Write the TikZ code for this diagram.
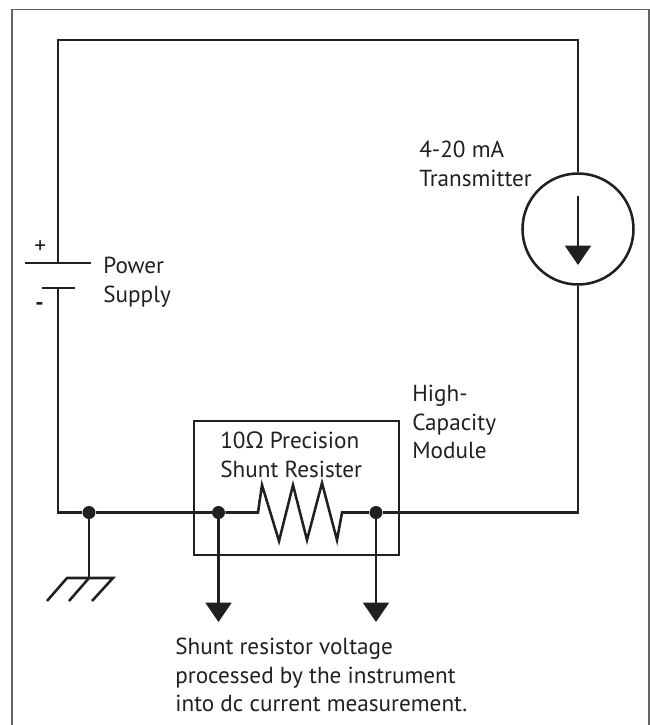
\documentclass[tikz,border=0pt]{standalone}
\usepackage{fontspec}
\setmainfont{PT Sans}
\newfontfamily\greekfont{Open Sans}
\usetikzlibrary{arrows.meta}
\definecolor{ink}{HTML}{231F20}
\begin{document}
\begin{tikzpicture}[x=0.02cm, y=-0.02cm]
	\tikzset{wire/.style={draw=ink, line width=1.45pt, line join=miter}}
	\tikzset{arrow/.style={wire, -{Triangle[width=14.7pt, length=11pt]}}}
	\tikzset{dot/.style={circle, fill=ink, minimum size=0.26cm, inner sep=0pt}}
	\tikzset{label/.style={anchor=west, align=left, text=ink, font=\fontsize{13.2pt}{16.4pt}\selectfont, inner sep=0pt}}
	\useasboundingbox (0, 0) rectangle (650, 725);
	\draw[draw=ink!70, line width=0.75pt] (12, 725) -- (12, 9.5) -- (649, 9.5) -- (649, 725);

	\coordinate (topleft) at (58, 40);
	\coordinate (topright) at (578, 40);
	\coordinate (botleft) at (58, 512.5);
	\coordinate (botright) at (578, 512.5);
	\coordinate (plus) at (58, 263);
	\coordinate (minus) at (58, 288);

	\node[dot] (gnd) at (89, 512.5) {};
	\node[dot] (tapa) at (218.5, 512.5) {};
	\node[dot] (tapb) at (376, 512.5) {};
	\node[draw=ink, line width=1.45pt, circle, minimum size=2.22cm, inner sep=0pt] (source) at (578, 229) {};
	\node[draw=ink, line width=1.45pt, minimum width=4.1cm, minimum height=2.68cm, inner sep=0pt] (module) at (296.5, 488) {};

	\coordinate (srctop) at (578, 196);
	\coordinate (srcbot) at (578, 265);
	\draw[arrow] (srctop) -- (srcbot);

	\draw[wire] (plus) -- (topleft) -- (topright) -- (source.north);
	\draw[wire] (minus) -- (botleft) -- (gnd) -- (tapa);
	\draw[wire] (source.south) -- (botright) -- (tapb);

	% battery plates
	\draw[wire] (25, 263) -- (plus) -- (91, 263);
	\draw[wire] (41.5, 288) -- (minus) -- (75, 288);

	% resistor
	\draw[wire] (tapa) -- (258, 512.5) -- (262, 485) -- (279, 541) -- (293, 485) -- (307, 540) -- (322, 483) -- (337, 540) -- (342, 512.5) -- (tapb);

	% ground
	\coordinate (gndbar) at (89, 578);
	\draw[wire] (gnd) -- (gndbar);
	\draw[wire] (47, 601) -- (67, 578) -- (gndbar) -- (113, 578) -- (92, 601);
	\draw[wire] (gndbar) -- (69, 601);

	\coordinate (enda) at (218.5, 622);
	\coordinate (endb) at (376, 622);
	\draw[arrow] (tapa) -- (enda);
	\draw[arrow] (tapb) -- (endb);

	\node[label] (psign) at (34, 247) {+};
	\node[label] (msign) at (35, 306) {\bfseries -};
	\node[label] (supply) at (103, 282) {Power\\Supply};
	\node[label] (transmitter) at (419, 164) {4-20 mA\\Transmitter};
	\node[label] (capacity) at (412, 422) {High-\\Capacity\\Module};
	\node[label] (shunt) at (220, 455) {10{\greekfont Ω} Precision\\Shunt Resister};
	\node[label] (note) at (175, 675) {Shunt resistor voltage\\processed by the instrument\\into dc current measurement.};
\end{tikzpicture}
\end{document}
